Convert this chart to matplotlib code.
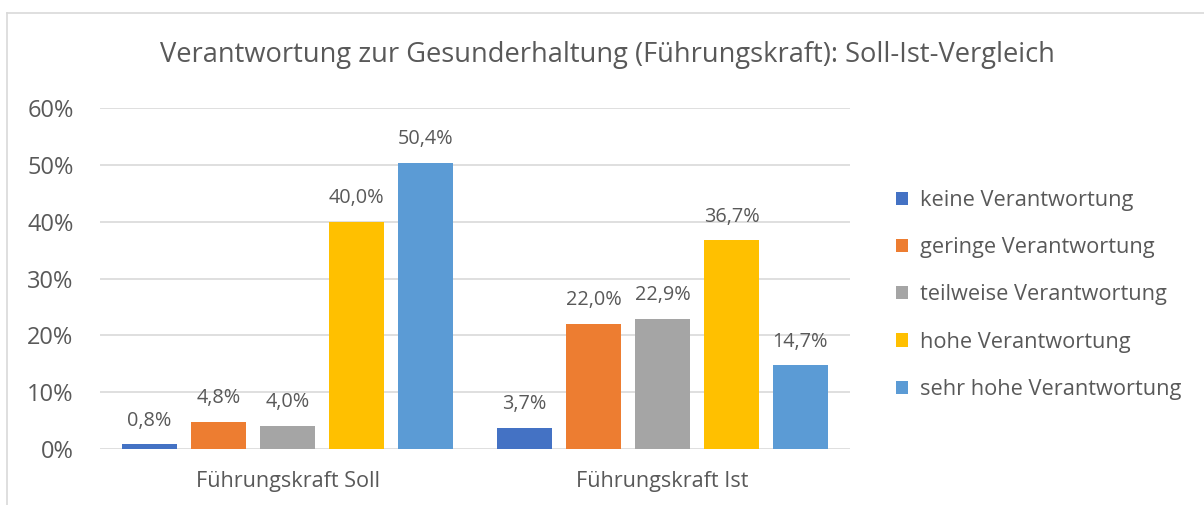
import matplotlib
matplotlib.use("Agg")
import matplotlib.pyplot as plt
import numpy as np
from matplotlib.patches import Patch
from matplotlib.lines import Line2D

# Daten
gruppen = ["Führungskraft Soll", "Führungskraft Ist"]
serien = [
    "keine Verantwortung",
    "geringe Verantwortung",
    "teilweise Verantwortung",
    "hohe Verantwortung",
    "sehr hohe Verantwortung",
]
werte_soll = [0.8, 4.8, 4.0, 40.0, 50.4]
werte_ist = [3.7, 22.0, 22.9, 36.7, 14.7]
yticks = [0, 10, 20, 30, 40, 50, 60]

farben = ["#4472C4", "#ED7D31", "#A5A5A5", "#FFC000", "#5B9BD5"]
textfarbe = "#595959"

plt.rcParams["font.family"] = ["Open Sans", "DejaVu Sans"]

fig = plt.figure(figsize=(12.04, 5.05), dpi=100)
ax = fig.add_axes([100 / 1204, 56 / 505, 750 / 1204, 341 / 505])

x = np.arange(len(gruppen))
abstand = 0.184
breite = 0.147
for i, name in enumerate(serien):
    hoehen = [werte_soll[i], werte_ist[i]]
    balken = ax.bar(x + (i - 2) * abstand, hoehen, breite, color=farben[i], label=name, zorder=3)
    ax.bar_label(
        balken,
        labels=[f"{h:.1f}%".replace(".", ",") for h in hoehen],
        padding=10,
        fontsize=14.3,
        color=textfarbe,
    )

ax.set_xlim(-0.5, 1.5)
ax.set_ylim(0, 60)
ax.set_yticks(yticks)
ax.set_yticklabels([f"{t}%" for t in yticks], fontsize=17, color=textfarbe)
ax.set_xticks(x)
ax.set_xticklabels(gruppen, fontsize=15.6, color=textfarbe)
ax.tick_params(axis="both", length=0)
ax.tick_params(axis="y", pad=19)
ax.tick_params(axis="x", pad=16)
ax.grid(axis="y", color="#D9D9D9", linewidth=1.2, zorder=0)
for s in ax.spines.values():
    s.set_visible(False)

fig.suptitle(
    "Verantwortung zur Gesunderhaltung (Führungskraft): Soll-Ist-Vergleich",
    x=607 / 1204,
    y=1 - 55 / 505,
    va="center",
    fontsize=19.6,
    color=textfarbe,
)

handles = [Patch(facecolor=c) for c in farben]
leg = fig.legend(
    handles,
    serien,
    loc="center left",
    bbox_to_anchor=(876 / 1204, 1 - 295 / 505),
    frameon=False,
    fontsize=15.7,
    labelcolor=textfarbe,
    handlelength=0.55,
    handleheight=0.55,
    handletextpad=0.55,
    labelspacing=1.2,
)

# Rahmen des Diagrammbereichs
fig.add_artist(Line2D([7 / 1204, 7 / 1204], [0, 1 - 13 / 505], color="#D9D9D9", lw=1.2))
fig.add_artist(Line2D([7 / 1204, 1], [1 - 13 / 505, 1 - 13 / 505], color="#D9D9D9", lw=1.2))

fig.savefig("out.png", dpi=100)
